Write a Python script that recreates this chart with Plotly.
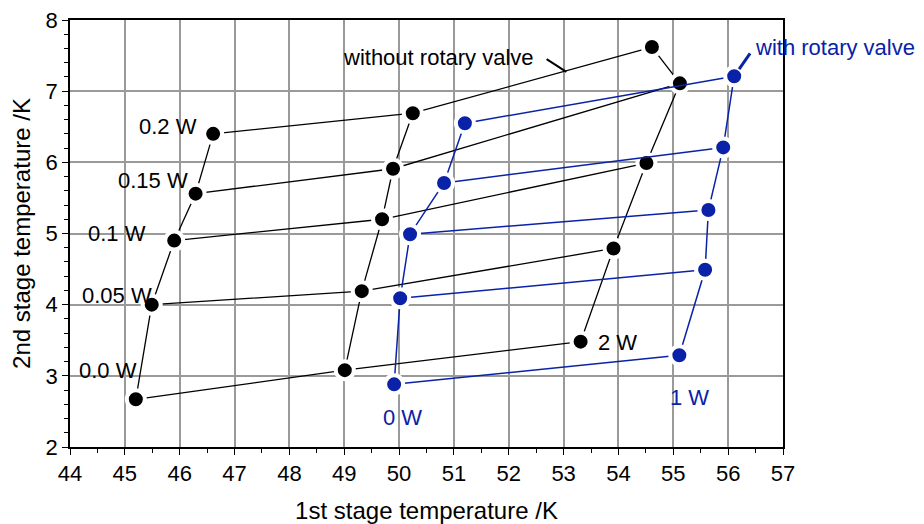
import plotly.graph_objects as go

# 2nd-stage heat loads (rows) and 1st-stage loads (columns)
row_labels = ["0.0 W", "0.05 W", "0.1 W", "0.15 W", "0.2 W"]

# without rotary valve (black): columns 0 W, 1 W, 2 W on the 1st stage
wo_T1_0W = [45.20, 45.49, 45.90, 46.29, 46.61]
wo_T2_0W = [2.67, 4.00, 4.90, 5.56, 6.40]
wo_T1_1W = [49.01, 49.32, 49.69, 49.89, 50.25]
wo_T2_1W = [3.08, 4.19, 5.20, 5.91, 6.69]
wo_T1_2W = [53.31, 53.91, 54.51, 55.12, 54.61]
wo_T2_2W = [3.48, 4.79, 5.99, 7.11, 7.62]

# with rotary valve (blue): columns 0 W, 1 W on the 1st stage
w_T1_0W = [49.91, 50.02, 50.20, 50.82, 51.20]
w_T2_0W = [2.88, 4.09, 4.99, 5.71, 6.55]
w_T1_1W = [55.11, 55.58, 55.64, 55.91, 56.11]
w_T2_1W = [3.29, 4.49, 5.33, 6.21, 7.21]

BLACK = "#000000"
BLUE = "#0A22A8"
FONT = "Liberation Sans, Arial, sans-serif"

fig = go.Figure()


def add_grid_series(cols_x, cols_y, color, lw):
    # columns (constant 1st-stage load)
    for xs, ys in zip(cols_x, cols_y):
        fig.add_trace(go.Scatter(x=xs, y=ys, mode="lines",
                                 line=dict(color=color, width=lw),
                                 hoverinfo="skip", showlegend=False))
    # rows (constant 2nd-stage load)
    for i in range(len(cols_x[0])):
        fig.add_trace(go.Scatter(x=[c[i] for c in cols_x], y=[c[i] for c in cols_y],
                                 mode="lines", line=dict(color=color, width=lw),
                                 hoverinfo="skip", showlegend=False))
    # markers with white halo so lines stop short of the dots
    allx = [v for c in cols_x for v in c]
    ally = [v for c in cols_y for v in c]
    fig.add_trace(go.Scatter(x=allx, y=ally, mode="markers",
                             marker=dict(color=color, size=18,
                                         line=dict(color="white", width=4)),
                             showlegend=False))


add_grid_series([wo_T1_0W, wo_T1_1W, wo_T1_2W], [wo_T2_0W, wo_T2_1W, wo_T2_2W], BLACK, 1.3)
add_grid_series([w_T1_0W, w_T1_1W], [w_T2_0W, w_T2_1W], BLUE, 1.5)

ann_font_b = dict(family=FONT, size=22, color=BLACK)
ann_font_u = dict(family=FONT, size=22, color=BLUE)

row_label_pos = [(44.69, 3.07), (44.86, 4.13), (44.86, 5.00), (45.52, 5.75), (45.78, 6.50)]
annotations = []
for lab, (ax_, ay_) in zip(row_labels, row_label_pos):
    annotations.append(dict(x=ax_, y=ay_, text=lab, showarrow=False, font=ann_font_b,
                            xanchor="center", yanchor="middle"))
annotations += [
    dict(x=53.99, y=3.47, text="2 W", showarrow=False, font=ann_font_b),
    dict(x=50.07, y=2.41, text="0 W", showarrow=False, font=ann_font_u),
    dict(x=55.30, y=2.69, text="1 W", showarrow=False, font=ann_font_u),
    dict(x=50.72, y=7.48, text="without rotary valve", showarrow=False, font=ann_font_b),
]
# "with rotary valve" sits outside the plot area: place it in paper coords
pl, pr, pt, pb = 70, 783, 20, 447
annotations.append(dict(x=(834.5 - pl) / (pr - pl), y=(pb - 47.7) / (pb - pt),
                        xref="paper", yref="paper", xanchor="center", yanchor="middle",
                        text="with rotary valve", showarrow=False, font=ann_font_u))

shapes = [
    dict(type="line", xref="x", yref="y", x0=52.69, y0=7.45, x1=53.05, y1=7.27,
         line=dict(color=BLACK, width=2)),
    dict(type="line", xref="x", yref="y", x0=56.40, y0=7.53, x1=56.20, y1=7.31,
         line=dict(color=BLUE, width=3)),
]

axis_common = dict(
    showline=True, linecolor="black", linewidth=1.5, mirror=True,
    showgrid=True, gridcolor="#9a9a9a", gridwidth=1.5,
    ticks="outside", ticklen=6, tickwidth=1.3, tickcolor="black",
    tickfont=dict(family=FONT, size=22, color="black"),
    zeroline=False, automargin=False, ticklabeloverflow="allow",
)

# page body has an 8 px margin, so subtract it from left/top
fig.update_layout(
    width=924, height=524,
    margin=dict(l=pl - 8, r=924 - (pr - 8), t=pt - 8, b=524 - (pb - 8)),
    plot_bgcolor="white", paper_bgcolor="white",
    showlegend=False,
    annotations=annotations,
    shapes=shapes,
    xaxis=dict(range=[44, 57], dtick=1, tick0=44,
               minor=dict(dtick=0.5, ticks="outside", ticklen=4, tickcolor="black", showgrid=False),
               title=dict(text="1st stage temperature /K", font=dict(family=FONT, size=24, color="black"), standoff=17),
               **axis_common),
    yaxis=dict(range=[2, 8], dtick=1, tick0=2,
               minor=dict(dtick=0.2, ticks="outside", ticklen=4, tickcolor="black", showgrid=False),
               title=dict(text="2nd stage temperature /K", font=dict(family=FONT, size=24, color="black"), standoff=9),
               **axis_common),
)

fig.write_html("out.html")
